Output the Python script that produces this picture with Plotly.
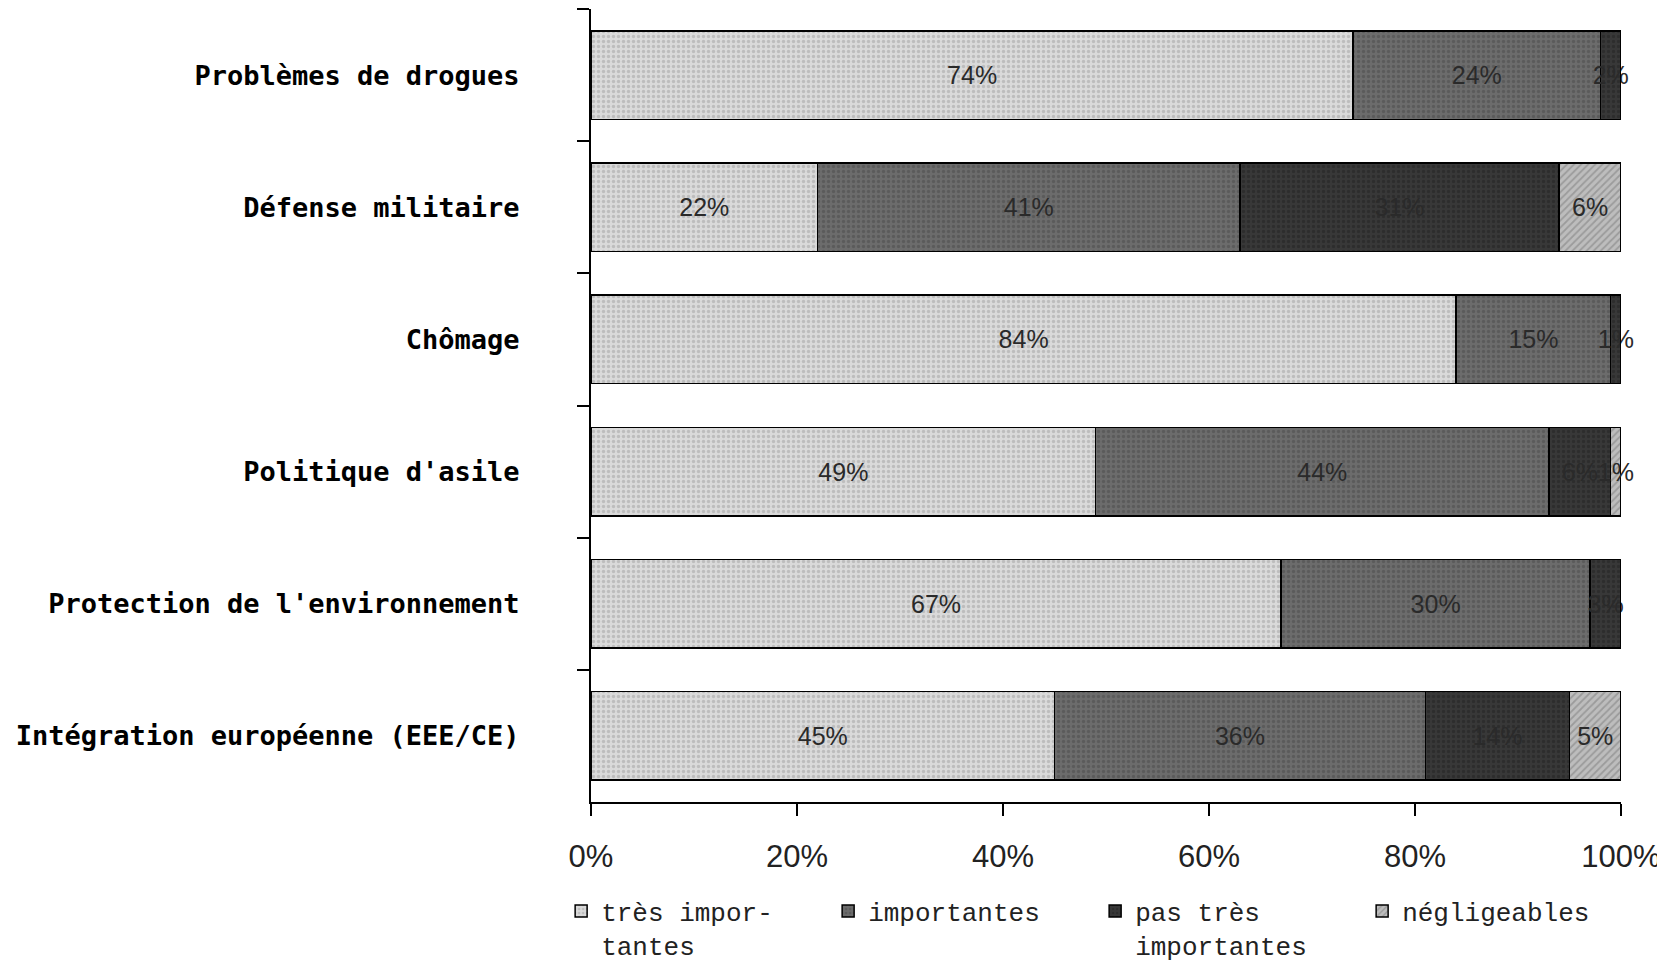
import plotly.graph_objects as go

categories = ["Problèmes de drogues",
              "Défense militaire",
              "Chômage",
              "Politique d'asile",
              "Protection de l'environnement",
              "Intégration européenne (EEE/CE)"]

tres_importantes = [74, 22, 84, 49, 67, 45]
importantes = [24, 41, 15, 44, 30, 36]
pas_tres_importantes = [2, 31, 1, 6, 3, 14]
negligeables = [0, 6, 0, 1, 0, 5]

series_names = ["très impor-<br>tantes", "importantes", "pas très<br>importantes", "négligeables"]
tick_vals = [0, 20, 40, 60, 80, 100]
tick_text = ["0%", "20%", "40%", "60%", "80%", "100%"]

# fill colour, pattern shape, pattern colour for each series
styles = [("#dadada", ".", "#a0a0a0"),
          ("#6c6c6c", ".", "#4a4a4a"),
          ("#383838", ".", "#222222"),
          ("#bdbdbd", "/", "#7a7a7a")]

fig = go.Figure()
for name, vals, (col, shape, fg) in zip(series_names,
                                        [tres_importantes, importantes, pas_tres_importantes, negligeables],
                                        styles):
    fig.add_trace(go.Bar(
        y=categories,
        x=vals,
        name=name,
        orientation="h",
        text=[f"{v}%" if v else "" for v in vals],
        textposition="inside",
        textangle=0,
        insidetextanchor="middle",
        cliponaxis=False,
        textfont=dict(family="Liberation Sans", size=25, color="#2a2a2a"),
        marker=dict(color=col,
                    line=dict(color="black", width=1.5),
                    pattern=dict(shape=shape, fillmode="overlay", fgcolor=fg, size=5, solidity=0.35)),
    ))

fig.update_layout(
    barmode="stack",
    bargap=0.33,
    width=1665,
    height=969,
    paper_bgcolor="white",
    plot_bgcolor="white",
    margin=dict(l=583, r=52, t=1, b=175, autoexpand=False),
    uniformtext=dict(minsize=25, mode="show"),
    legend=dict(orientation="h", x=-0.029, y=-0.108, xanchor="left", yanchor="top",
                entrywidth=222, entrywidthmode="pixels",
                font=dict(family="Liberation Mono", size=26, color="#222"),
                traceorder="normal", valign="top"),
)

fig.update_xaxes(range=[0, 100], tickvals=tick_vals, ticktext=tick_text,
                 showgrid=False, zeroline=False, showline=True, linecolor="black", linewidth=2,
                 ticks="outside", ticklen=12, tickwidth=2, tickcolor="black",
                 ticklabelstandoff=14,
                 tickfont=dict(family="Liberation Sans", size=31, color="#222"))

fig.update_yaxes(autorange="reversed", showgrid=False, showline=True, linecolor="black", linewidth=2,
                 ticks="outside", tickson="boundaries", ticklen=12, tickwidth=2, tickcolor="black",
                 ticklabelstandoff=64,
                 tickfont=dict(family="DejaVu Sans Mono", size=27, color="black", weight="bold"))

fig.write_html("out.html")
